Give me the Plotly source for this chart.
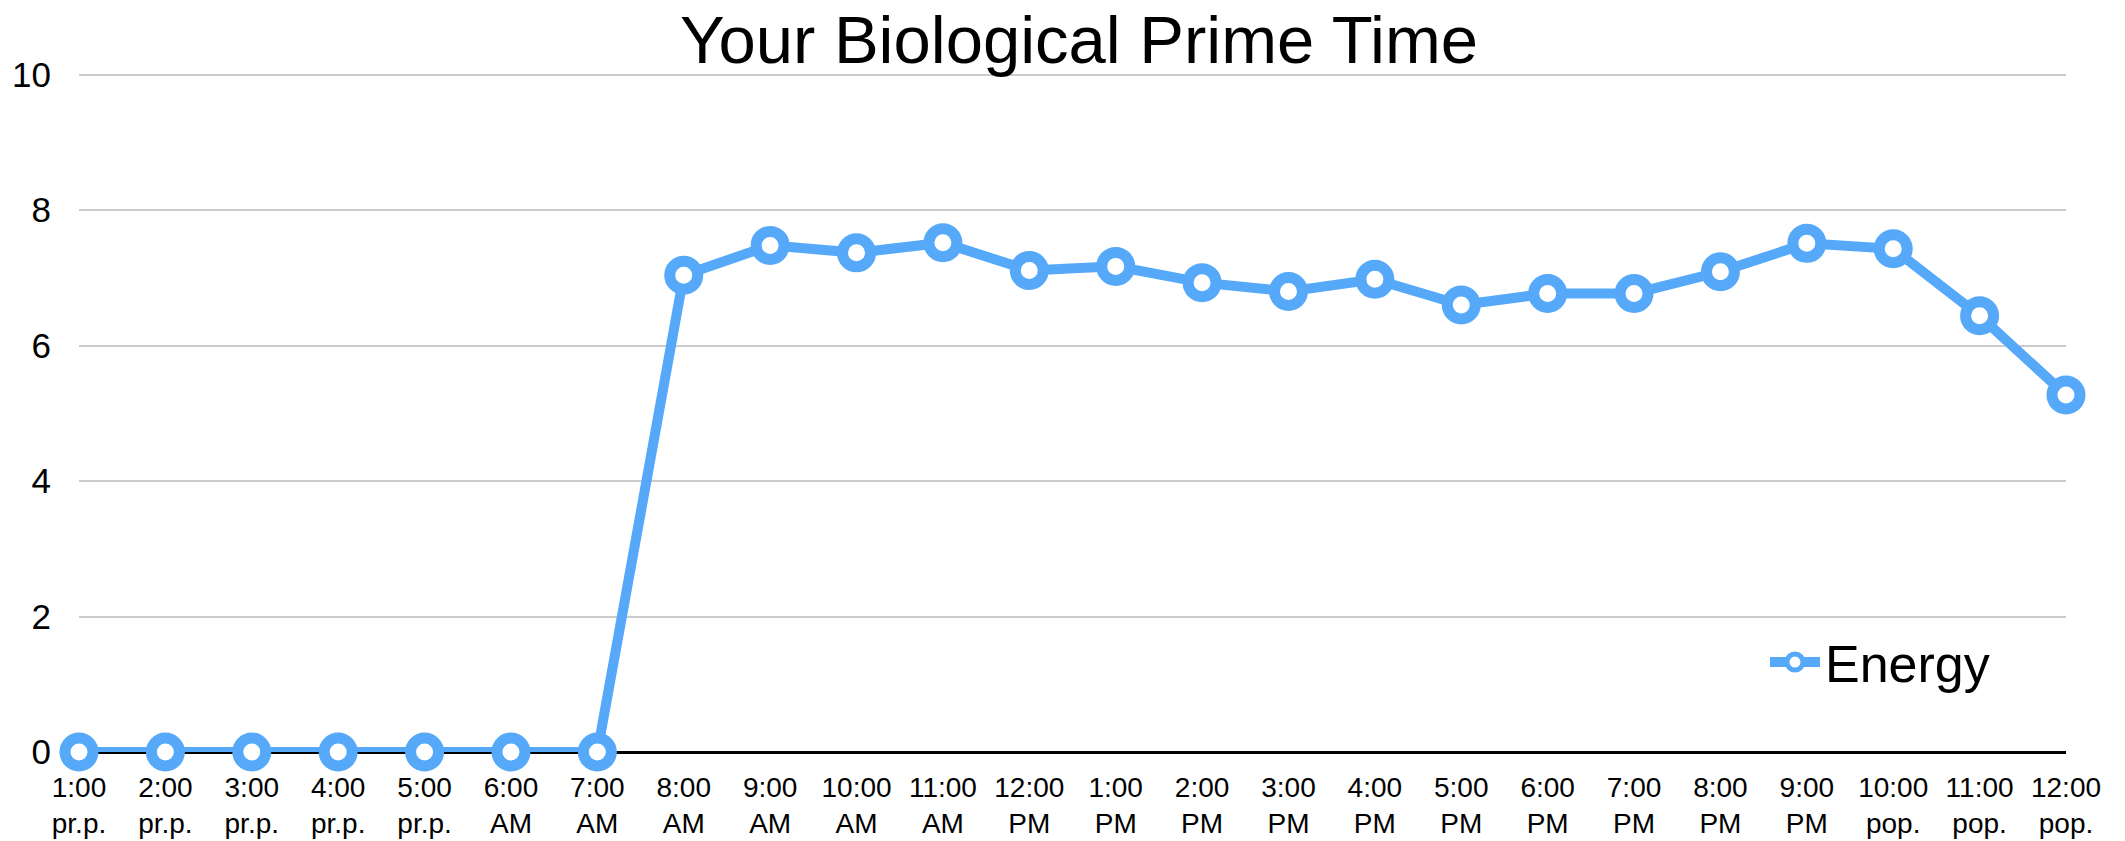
import plotly.graph_objects as go

hours = ["1:00<br>pr.p.", "2:00<br>pr.p.", "3:00<br>pr.p.", "4:00<br>pr.p.", "5:00<br>pr.p.",
         "6:00<br>AM", "7:00<br>AM", "8:00<br>AM", "9:00<br>AM", "10:00<br>AM", "11:00<br>AM",
         "12:00<br>PM", "1:00<br>PM", "2:00<br>PM", "3:00<br>PM", "4:00<br>PM", "5:00<br>PM",
         "6:00<br>PM", "7:00<br>PM", "8:00<br>PM", "9:00<br>PM", "10:00<br>pop.", "11:00<br>pop.",
         "12:00<br>pop."]
energy = [0, 0, 0, 0, 0, 0, 0, 7.04, 7.48, 7.37, 7.52, 7.11, 7.17, 6.93, 6.80, 6.98,
          6.60, 6.77, 6.77, 7.09, 7.51, 7.43, 6.44, 5.27]
y_ticks = [0, 2, 4, 6, 8, 10]

COLOR = "#56A9F9"
FONT = "Liberation Sans, Arial, sans-serif"

fig = go.Figure()
fig.add_trace(go.Scatter(
    x=hours, y=energy, name="Energy", mode="lines+markers",
    line=dict(color=COLOR, width=10),
    marker=dict(symbol="circle", size=28, color="white", line=dict(color=COLOR, width=11)),
    cliponaxis=False,
))

fig.update_layout(
    width=2125, height=841,
    margin=dict(l=71, r=67, t=64, b=97, autoexpand=False),
    paper_bgcolor="white", plot_bgcolor="white",
    font=dict(family=FONT, size=28, color="black"),
    title=dict(text="Your Biological Prime Time", x=0.504, xanchor="center",
               y=0.99, yanchor="top", font=dict(size=67, family=FONT, color="black")),
    showlegend=True,
    legend=dict(x=0.8485, y=0.132, xanchor="left", yanchor="middle",
                font=dict(size=52, family=FONT), bgcolor="rgba(0,0,0,0)",
                itemsizing="trace", itemwidth=50),
    xaxis=dict(type="category", range=[0, 23], showgrid=False, zeroline=False,
               showline=False, ticks="", tickfont=dict(size=28),
               ticklabelstandoff=16, fixedrange=True, automargin=False),
    yaxis=dict(range=[0, 10.04], tickvals=y_ticks, showgrid=True, gridcolor="#CCCCCC",
               gridwidth=1.5, zeroline=True, zerolinecolor="black", zerolinewidth=3,
               showline=False, ticks="", tickfont=dict(size=35),
               ticklabelstandoff=27, fixedrange=True, automargin=False),
)

fig.write_html("out.html")
